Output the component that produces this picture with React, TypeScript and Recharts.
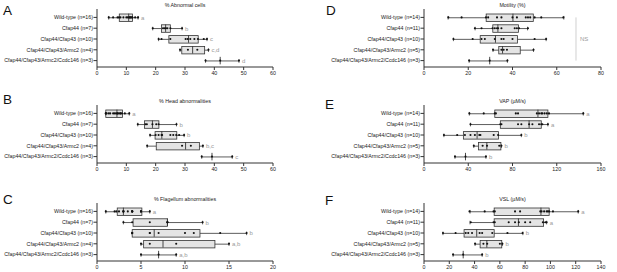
import React from 'react';
import { Bar, ComposedChart, LabelList, ReferenceLine, Scatter, XAxis, YAxis } from 'recharts';

const FONT = 'Liberation Sans, Arial, Helvetica, sans-serif';

const groupsLeft = [
  'Wild-type (n=16)',
  'Cfap44 (n=7)',
  'Cfap44/Cfap43 (n=10)',
  'Cfap44/Cfap43/Armc2 (n=4)',
  'Cfap44/Cfap43/Armc2/Ccdc146 (n=3)',
];
const groupsRight = [
  'Wild-type (n=14)',
  'Cfap44 (n=11)',
  'Cfap44/Cfap43 (n=10)',
  'Cfap44/Cfap43/Armc2 (n=5)',
  'Cfap44/Cfap43/Armc2/Ccdc146 (n=3)',
];

// box rows are [min, q1, median, q3, max]
const abnormalBoxes = [
  [4, 7.6, 10.8, 12.1, 14],
  [19, 22, 23.4, 25, 29],
  [21, 24.5, 31.2, 34.5, 37.5],
  [28.3, 28.9, 32.6, 36.7, 38],
  [37, 42, 42, 42, 48.4],
];
const abnormalPoints = [
  [4, 5.5, 7, 7.5, 8, 9, 10, 10.5, 11, 11, 11.5, 11.5, 12, 12, 13, 14],
  [19, 22.5, 23, 23.5, 24, 25, 29],
  [21, 22, 25, 30.2, 30.9, 31.8, 33.2, 34.4, 36.4, 37.5],
  [28.3, 31, 34.2, 38],
  [37, 42, 48.4],
];
const abnormalLetters = ['a', 'b', 'c', 'c,d', 'd'];
const abnormalTicks = [0, 10, 20, 30, 40, 50, 60];

const headBoxes = [
  [3, 3, 6.8, 8.7, 11],
  [13.9, 16.2, 18.9, 21.1, 27.1],
  [18.1, 19.8, 22.1, 27.2, 29.7],
  [17.1, 20.2, 30.2, 34.9, 36.1],
  [35.7, 39.2, 39.2, 39.2, 46.1],
];
const headPoints = [
  [3, 3, 3.3, 4, 4.5, 5.5, 6, 6.5, 7, 7, 7.5, 8, 8, 8.5, 9.5, 11],
  [13.9, 16.5, 17, 18.9, 20.2, 21, 27.1],
  [18.1, 20, 21, 22, 22.2, 25, 26, 27, 28, 29.7],
  [17.1, 29, 32, 36.1],
  [35.7, 39.2, 46.1],
];
const headLetters = ['a', 'b', 'b', 'b,c', 'c'];
const headTicks = [0, 10, 20, 30, 40, 50, 60];

const flagellumBoxes = [
  [1, 2.3, 3, 5.1, 6],
  [3, 4.1, 8, 8, 12],
  [4, 4, 6.5, 11.7, 17],
  [5, 5.3, 7.5, 13.4, 15],
  [5, 7, 7, 7, 9],
];
const flagellumPoints = [
  [1, 2, 2.2, 2.5, 3, 3, 3, 3.5, 4, 4, 4, 4, 5, 5, 5, 6],
  [3, 4, 6, 8, 8, 8, 12],
  [4, 4, 4, 6, 6, 7, 10, 11, 14, 17],
  [5, 6, 9, 15],
  [5, 7, 9],
];
const flagellumLetters = ['a', 'b', 'b', 'a,b', 'a,b'];
const flagellumTicks = [0, 5, 10, 15, 20];

const motilityBoxes = [
  [10.9, 28.1, 40.2, 49.4, 63.2],
  [23.1, 31.1, 33.4, 42.7, 46.8],
  [13.3, 25.4, 32.3, 42.3, 55.2],
  [31.2, 33.8, 35.5, 43.5, 49.5],
  [20.4, 29.7, 29.7, 29.7, 37.7],
];
const motilityPoints = [
  [11, 17, 28, 29, 33, 35, 40, 42, 46, 47, 48, 50, 53, 63],
  [23, 26, 31, 32, 33, 33.5, 35, 41, 42, 43, 47],
  [13.3, 22, 26, 27.5, 32, 35, 36, 40, 50, 55.2],
  [31.2, 35, 36, 37.5, 49.5],
  [20.4, 29.7, 37.7],
];
const motilityTicks = [0, 20, 40, 60, 80];
const motilityNsAt = 68.7;

const vapBoxes = [
  [41, 64, 103, 112, 144],
  [42, 69, 95, 106, 112],
  [18, 35.6, 48, 67.3, 88],
  [45, 49.2, 56.8, 69.5, 70],
  [28, 37.5, 37.5, 37.5, 56],
];
const vapPoints = [
  [41, 54, 64, 65, 83, 85, 102, 104, 106, 107, 109, 111, 113, 144],
  [42, 69, 70, 85, 88, 95, 98, 104, 106, 107, 112],
  [18, 30, 37, 42, 46, 50, 51, 63, 67, 88],
  [45, 53, 57, 68, 70],
  [28, 37.5, 56],
];
const vapLetters = ['a', 'a', 'b', 'b', 'b'];
const vapTicks = [0, 40, 80, 120, 160];

const vslBoxes = [
  [36.4, 55.5, 92.5, 99, 122],
  [36.4, 55.5, 74.7, 94.6, 97],
  [15, 31.7, 41.7, 55.5, 78.2],
  [40.4, 44.4, 49.7, 61.5, 62],
  [23, 31, 31, 31, 46],
];
const vslPoints = [
  [36, 48, 55, 56, 72, 76, 92, 93, 95, 97, 98, 99, 102, 122],
  [37, 55, 56, 67, 72, 75, 80, 84, 94, 96, 97],
  [15, 25, 33, 35, 38, 44, 46, 54, 66, 78],
  [40.4, 47, 50, 60, 62],
  [23, 31, 46],
];
const vslLetters = ['a', 'a', 'b', 'b', 'b'];
const vslTicks = [0, 20, 40, 60, 80, 100, 120, 140];

const BAR = 7.5;
const INK = '#333';

const LowWhisker = (p: any) => {
  const cy = p.y + p.height / 2;
  return (
    <g stroke={INK} strokeWidth={0.8}>
      <line x1={p.x} x2={p.x + p.width} y1={cy} y2={cy} />
      <line x1={p.x} x2={p.x} y1={cy - 1.8} y2={cy + 1.8} />
    </g>
  );
};

const HighWhisker = (p: any) => {
  const cy = p.y + p.height / 2;
  return (
    <g stroke={INK} strokeWidth={0.8}>
      <line x1={p.x} x2={p.x + p.width} y1={cy} y2={cy} />
      <line x1={p.x + p.width} x2={p.x + p.width} y1={cy - 1.8} y2={cy + 1.8} />
    </g>
  );
};

const BoxShape = (p: any) =>
  p.width > 0 ? (
    <rect x={p.x} y={p.y} width={p.width} height={p.height} fill="#e4e4e4" stroke={INK} strokeWidth={0.8} />
  ) : (
    <g />
  );

const MedianShape = (p: any) => (
  <line x1={p.cx} x2={p.cx} y1={p.cy - BAR / 2} y2={p.cy + BAR / 2} stroke={INK} strokeWidth={0.9} />
);

const DotShape = (p: any) => <circle cx={p.cx} cy={p.cy} r={1.05} fill="#111" />;

// plain one-line labels, Recharts would wrap them to the axis width
const GroupTick = (p: any) => (
  <text x={p.x} y={p.y} dy="0.35em" textAnchor="end" fontSize={5.3} fill="#222" fontFamily={FONT}>
    {p.payload.value}
  </text>
);

type PanelProps = {
  groups: string[];
  boxes: number[][];
  points: number[][];
  letters?: string[];
  ticks: number[];
  left: number;
  top: number;
  width: number;
  right: number;
  nsAt?: number;
};

const BoxPanel = ({ groups, boxes, points, letters, ticks, left, top, width, right, nsAt }: PanelProps) => {
  const rows = groups.map((name, i) => {
    const [mn, q1, , q3, mx] = boxes[i];
    return { name, base: mn, low: q1 - mn, box: q3 - q1, high: mx - q3, letter: letters ? letters[i] : '' };
  });
  const medians = groups.map((name, i) => ({ name, v: boxes[i][2] }));
  const dots = points.flatMap((vals, i) => vals.map((v) => ({ name: groups[i], v })));
  const max = ticks[ticks.length - 1];

  return (
    <div style={{ position: 'absolute', left, top }}>
      <ComposedChart
        width={width}
        height={74}
        data={rows}
        layout="vertical"
        margin={{ top: 2, right, left: 0, bottom: 0 }}
        style={{ fontFamily: FONT }}
      >
        <XAxis
          type="number"
          domain={[0, max]}
          ticks={ticks}
          interval={0}
          allowDataOverflow
          height={14}
          tickSize={3}
          tickMargin={1}
          stroke={INK}
          tick={{ fontSize: 5.3, fill: '#222' }}
        />
        <XAxis xAxisId="frame" orientation="top" type="number" domain={[0, max]} height={0} tick={false} tickLine={false} stroke="#8a8a8a" />
        <YAxis
          type="category"
          dataKey="name"
          allowDuplicatedCategory={false}
          interval={0}
          width={97}
          tickSize={3.5}
          tickMargin={0.5}
          padding={{ top: 3, bottom: 1 }}
          stroke={INK}
          tick={GroupTick}
        />
        <YAxis yAxisId="frame" orientation="right" width={0} tick={false} tickLine={false} stroke="#8a8a8a" />
        <Scatter data={medians} dataKey="v" shape={MedianShape} isAnimationActive={false} />
        <Bar dataKey="base" stackId="s" barSize={BAR} shape={() => <g />} isAnimationActive={false} />
        <Bar dataKey="low" stackId="s" barSize={BAR} shape={LowWhisker} isAnimationActive={false} />
        <Bar dataKey="box" stackId="s" barSize={BAR} shape={BoxShape} isAnimationActive={false} />
        <Bar dataKey="high" stackId="s" barSize={BAR} shape={HighWhisker} isAnimationActive={false}>
          <LabelList dataKey="letter" position="right" offset={3} fill="#9a9a9a" fontSize={6} />
        </Bar>
        <Scatter data={dots} dataKey="v" shape={DotShape} isAnimationActive={false} />
        {nsAt !== undefined && (
          <ReferenceLine
            segment={[
              { x: nsAt, y: groups[0] },
              { x: nsAt, y: groups[groups.length - 1] },
            ]}
            stroke="#c4c4c4"
            strokeWidth={0.8}
            label={{ value: 'NS', position: 'right', offset: 4, fill: '#9a9a9a', fontSize: 6 }}
          />
        )}
      </ComposedChart>
    </div>
  );
};

const titles = [
  { text: 'A', sub: '% Abnormal cells', lx: 3, ly: 14.5, cx: 185, plotTop: 8.7 },
  { text: 'B', sub: '% Head abnormalities', lx: 3, ly: 104, cx: 185, plotTop: 105 },
  { text: 'C', sub: '% Flagellum abnormalities', lx: 3, ly: 204, cx: 185, plotTop: 202.5 },
  { text: 'D', sub: 'Motility (%)', lx: 326, ly: 14.5, cx: 512.5, plotTop: 8.7 },
  { text: 'E', sub: 'VAP (µM/s)', lx: 325, ly: 108.5, cx: 512.5, plotTop: 105 },
  { text: 'F', sub: 'VSL (µM/s)', lx: 325, ly: 204.5, cx: 512.5, plotTop: 202.5 },
];

export default function App() {
  return (
    <div style={{ position: 'absolute', left: 0, top: 0, width: 617, height: 272, background: '#fff', fontFamily: FONT }}>
      <BoxPanel groups={groupsLeft} boxes={abnormalBoxes} points={abnormalPoints} letters={abnormalLetters} ticks={abnormalTicks} left={0} top={6.7} width={300} right={27} />
      <BoxPanel groups={groupsLeft} boxes={headBoxes} points={headPoints} letters={headLetters} ticks={headTicks} left={0} top={103} width={300} right={27} />
      <BoxPanel groups={groupsLeft} boxes={flagellumBoxes} points={flagellumPoints} letters={flagellumLetters} ticks={flagellumTicks} left={0} top={200.5} width={300} right={27} />
      <BoxPanel groups={groupsRight} boxes={motilityBoxes} points={motilityPoints} ticks={motilityTicks} left={327} top={6.7} width={290} right={16} nsAt={motilityNsAt} />
      <BoxPanel groups={groupsRight} boxes={vapBoxes} points={vapPoints} letters={vapLetters} ticks={vapTicks} left={327} top={103} width={290} right={16} />
      <BoxPanel groups={groupsRight} boxes={vslBoxes} points={vslPoints} letters={vslLetters} ticks={vslTicks} left={327} top={200.5} width={290} right={16} />
      <svg width={617} height={272} style={{ position: 'absolute', left: 0, top: 0, pointerEvents: 'none' }}>
        {titles.map((t) => (
          <g key={t.text} fontFamily={FONT}>
            <text x={t.lx} y={t.ly} fontSize={13.5} fill="#111">
              {t.text}
            </text>
            <text x={t.cx} y={t.plotTop - 1.8} fontSize={5.3} fill="#222" textAnchor="middle">
              {t.sub}
            </text>
          </g>
        ))}
      </svg>
    </div>
  );
}
